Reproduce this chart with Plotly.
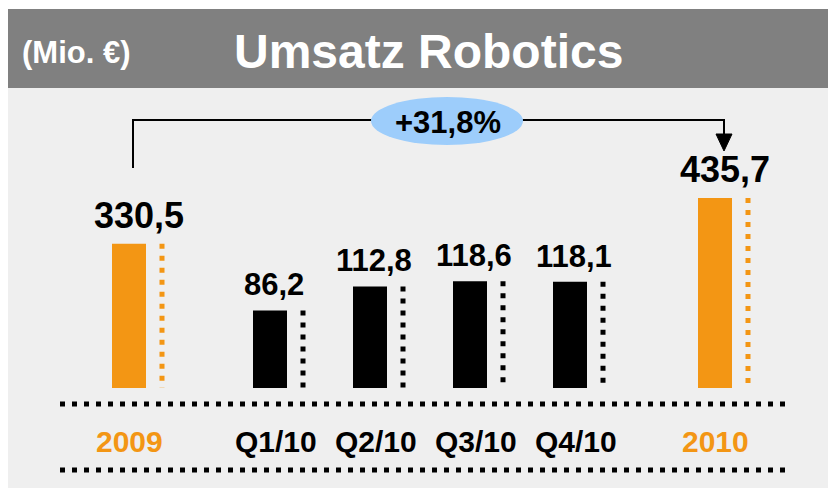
import plotly.graph_objects as go

# ---- data ----
annual_labels = ["2009", "2010"]
annual_values = [330.5, 435.7]
annual_text = ["330,5", "435,7"]
quarter_labels = ["Q1/10", "Q2/10", "Q3/10", "Q4/10"]
quarter_values = [86.2, 112.8, 118.6, 118.1]
quarter_text = ["86,2", "112,8", "118,6", "118,1"]
growth_text = "+31,8%"
title_text = "Umsatz Robotics"
unit_text = "(Mio. €)"

# ---- layout helpers ----
PAGE_MARGIN = 8  # default body margin of the html page
W, H = 836 - PAGE_MARGIN, 488 - PAGE_MARGIN
ORANGE = "#f39614"
BLUE = "#9dcdfb"
FONT = "Liberation Sans, Arial, sans-serif"


def X(px):
    return (px - PAGE_MARGIN) / W


def Y(py):
    return 1 - (py - PAGE_MARGIN) / H


GAP = 1.41  # slot gap between annual and quarterly groups
q_pos = [GAP + i for i in range(len(quarter_values))]
a_pos = [0, q_pos[-1] + 1.45]
BAR_W = 0.34
DOT_OFF = 0.33
DOT_DASH = "5px,7px"
UNIT_PX = 100  # pixels per slot unit
ORIGIN_PX = 129  # screen x of first bar centre

fig = go.Figure()

# bars
fig.add_trace(go.Bar(x=a_pos, y=annual_values, width=BAR_W, marker_color=ORANGE,
                     marker_line_width=0, yaxis="y2", hoverinfo="skip"))
fig.add_trace(go.Bar(x=q_pos, y=quarter_values, width=BAR_W, marker_color="black",
                     marker_line_width=0, hoverinfo="skip"))

# dotted lines beside bars
for p, v in zip(a_pos, annual_values):
    fig.add_trace(go.Scatter(x=[p + DOT_OFF, p + DOT_OFF], y=[v, 0], mode="lines",
                             line=dict(color=ORANGE, width=5, dash=DOT_DASH),
                             yaxis="y2", hoverinfo="skip"))
for p, v in zip(q_pos, quarter_values):
    fig.add_trace(go.Scatter(x=[p + DOT_OFF, p + DOT_OFF], y=[v, 0], mode="lines",
                             line=dict(color="black", width=5, dash=DOT_DASH),
                             hoverinfo="skip"))

annotations = []
# value labels
for p, v, t in zip(a_pos, annual_values, annual_text):
    annotations.append(dict(x=p, y=v, xref="x", yref="y2", text=t, showarrow=False,
                            xanchor="center", yanchor="bottom", xshift=10, yshift=6,
                            font=dict(family=FONT, size=36, color="black", weight="bold")))
for p, v, t in zip(q_pos, quarter_values, quarter_text):
    annotations.append(dict(x=p, y=v, xref="x", yref="y", text=t, showarrow=False,
                            xanchor="center", yanchor="bottom", xshift=4, yshift=6,
                            font=dict(family=FONT, size=31, color="black", weight="bold")))
# category labels
for p, t in zip(a_pos, annual_labels):
    annotations.append(dict(x=p, y=Y(441), xref="x", yref="paper", text=t, showarrow=False,
                            xanchor="center", yanchor="middle",
                            font=dict(family=FONT, size=30, color=ORANGE, weight="bold")))
for p, t in zip(q_pos, quarter_labels):
    annotations.append(dict(x=p, y=Y(441), xref="x", yref="paper", text=t, showarrow=False,
                            xanchor="center", yanchor="middle", xshift=6,
                            font=dict(family=FONT, size=30, color="black", weight="bold")))
# header texts
annotations.append(dict(x=X(76), y=Y(52), xref="paper", yref="paper", text=unit_text,
                        showarrow=False, xanchor="center", yanchor="middle",
                        font=dict(family=FONT, size=31, color="white", weight="bold")))
annotations.append(dict(x=X(428), y=Y(51), xref="paper", yref="paper", text=title_text,
                        showarrow=False, xanchor="center", yanchor="middle",
                        font=dict(family=FONT, size=48, color="white", weight="bold")))
annotations.append(dict(x=X(448), y=Y(122), xref="paper", yref="paper", text=growth_text,
                        showarrow=False, xanchor="center", yanchor="middle",
                        font=dict(family=FONT, size=31, color="black", weight="bold")))

shapes = [
    # panel and header
    dict(type="rect", xref="paper", yref="paper", x0=0, x1=1, y0=0, y1=Y(88),
         fillcolor="#efefef", line_width=0, layer="below"),
    dict(type="rect", xref="paper", yref="paper", x0=0, x1=1, y0=Y(88), y1=Y(9),
         fillcolor="#808080", line_width=0, layer="below"),
    # horizontal dotted lines
    dict(type="line", xref="paper", yref="paper", x0=X(60), x1=X(788), y0=Y(404), y1=Y(404),
         line=dict(color="black", width=5, dash=DOT_DASH), layer="below"),
    dict(type="line", xref="paper", yref="paper", x0=X(60), x1=X(788), y0=Y(470), y1=Y(470),
         line=dict(color="black", width=5, dash=DOT_DASH), layer="below"),
    # bracket
    dict(type="path", xref="paper", yref="paper",
         path=f"M{X(133)},{Y(168)} L{X(133)},{Y(120)} L{X(724)},{Y(120)} L{X(724)},{Y(136)}",
         line=dict(color="black", width=2)),
    dict(type="path", xref="paper", yref="paper",
         path=f"M{X(716)},{Y(134)} L{X(732)},{Y(134)} L{X(724)},{Y(151)} Z",
         fillcolor="black", line=dict(color="black", width=1)),
    dict(type="circle", xref="paper", yref="paper", x0=X(371), x1=X(523), y0=Y(145), y1=Y(97),
         fillcolor=BLUE, line_width=0),
]

# x range so that slot 0 lands at ORIGIN_PX on screen
x_lo = -(ORIGIN_PX - PAGE_MARGIN) / UNIT_PX
x_hi = x_lo + W / UNIT_PX

fig.update_layout(
    width=W, height=H,
    margin=dict(l=0, r=0, t=0, b=0),
    paper_bgcolor="white", plot_bgcolor="rgba(0,0,0,0)",
    showlegend=False, barmode="overlay",
    xaxis=dict(range=[x_lo, x_hi], domain=[0, 1], visible=False, fixedrange=True),
    yaxis=dict(range=[0, 320], domain=[Y(388), Y(100)], visible=False, fixedrange=True),
    yaxis2=dict(range=[0, 660], overlaying="y", visible=False, fixedrange=True),
    annotations=annotations,
    shapes=shapes,
)

fig.write_html("out.html", config={"displayModeBar": False})
